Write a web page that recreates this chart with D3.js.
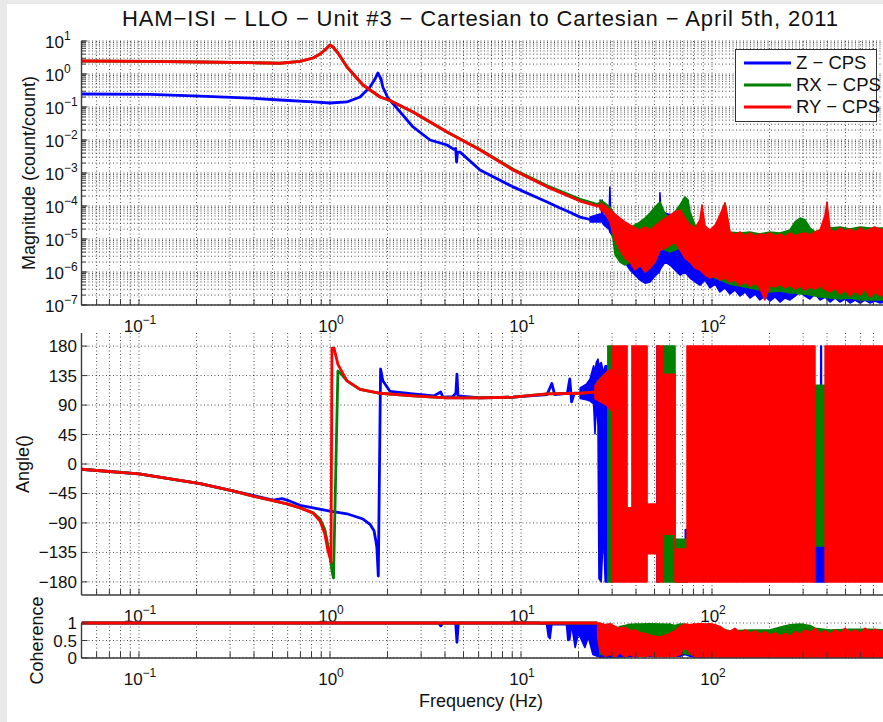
<!DOCTYPE html>
<html><head><meta charset="utf-8">
<script src="https://cdn.jsdelivr.net/npm/d3@7"></script>
<style>
body{margin:0;background:#e9e9e9}
svg{display:block}
text{font-family:"Liberation Sans",Arial,Helvetica,sans-serif;fill:#111}
</style></head><body>
<svg id="c" width="883" height="722"></svg>
<script>
// ---------------- DATA ----------------
const titleText = "HAM\u2212ISI \u2212 LLO \u2212 Unit #3 \u2212 Cartesian to Cartesian \u2212 April 5th, 2011";
const seriesNames = ["Z \u2212 CPS", "RX \u2212 CPS", "RY \u2212 CPS"];
const seriesColors = ["#0000ff", "#008000", "#ff0000"];
const freqDomain = [0.05, 800];
const freqTickExps = [-1, 0, 1, 2];
const magTickExps = [-7, -6, -5, -4, -3, -2, -1, 0, 1];
const angleTicks = [-180, -135, -90, -45, 0, 45, 90, 135, 180];
const cohTicks = [0, 0.5, 1];
const cohTickLabels = ["0", "0.5", "1"];

// Magnitude (count/count): clean lines [f, value]; noisy bands [f, low, high]
const magZLine = [[0.05,0.248],[0.114,0.24],[0.209,0.215],[0.381,0.187],[0.547,0.163],[0.815,0.142],[1.0,0.132],[1.227,0.142],[1.436,0.201],[1.62,0.404],[1.72,0.705],[1.78,1.07],[1.85,0.705],[1.89,0.404],[2.01,0.187],[2.24,0.093],[2.72,0.0248],[3.34,0.0100],[4.10,0.00705],[4.45,0.0052],[4.55,0.0055],[4.6,0.00215],[4.65,0.0043],[4.8,0.0043],[6.10,0.00123],[9.08,3.8e-4],[13.7,1.32e-4],[16,8.7e-5],[18,6.5e-5],[20.4,4.6e-5],[23,3.9e-5]];
const magZBand = [[23.0,3.3e-5,4.6e-5],[25.9,3.3e-5,5.7e-5],[26.4,3.3e-5,5.3e-5],[26.6,3.3e-5,1.52e-4],[26.9,2.85e-5,5.0e-5],[27.5,2.48e-5,5.3e-5],[28.9,2.0e-5,4.6e-5],[29.2,1.63e-5,3.77e-4],[29.5,1.5e-5,4.3e-5],[30.3,1.15e-5,4.3e-5],[31.1,9.3e-6,3.3e-5],[33.0,3.3e-6,2.31e-5],[35.0,2.0e-6,1.63e-5],[37.2,1.15e-6,1.15e-5],[39.5,8.1e-7,9.3e-6],[42.0,5.7e-7,9.3e-6],[44.6,4.6e-7,8.1e-6],[47.4,5.0e-7,9.3e-6],[50.3,7.6e-7,1.32e-5],[53.0,1.0e-6,2.5e-5],[53.4,1.15e-6,2.5e-4],[54.0,1.3e-6,6e-5],[55.4,1.63e-6,5.3e-5],[56.8,2.0e-6,6.1e-5],[60.3,1.63e-6,5.3e-5],[64.0,1.15e-6,3.8e-5],[68.0,8.1e-7,1.32e-5],[72.2,1.0e-6,9.3e-6],[76.7,6.6e-7,7.6e-6],[81.5,5.0e-7,6.1e-6],[86.5,4.0e-7,6.6e-6],[91.9,5.7e-7,5.3e-6],[97.6,3.3e-7,4.6e-6],[104,4.3e-7,4.6e-6],[110,2.48e-7,4.0e-6],[117,3.3e-7,4.6e-6],[124,2.15e-7,3.3e-6],[132,2.85e-7,3.77e-6],[140,1.87e-7,2.85e-6],[149,2.48e-7,3.3e-6],[158,1.63e-7,2.65e-6],[168,2.15e-7,3.05e-6],[178,1.42e-7,2.65e-6],[189,1.87e-7,2.31e-6],[201,1.32e-7,2.65e-6],[214,1.75e-7,2.0e-6],[227,1.23e-7,2.31e-6],[241,1.63e-7,2.0e-6],[256,1.42e-7,2.65e-6],[272,1.87e-7,2.0e-6],[289,2.48e-7,2.31e-6],[307,1.87e-7,2.0e-6],[326,1.52e-7,1.75e-6],[346,2.15e-7,2.0e-6],[368,1.42e-7,1.63e-6],[391,1.75e-7,2.0e-6],[415,1.23e-7,1.52e-6],[441,1.63e-7,1.75e-6],[468,1.23e-7,1.32e-6],[497,1.52e-7,1.63e-6],[528,1.15e-7,1.32e-6],[561,1.42e-7,1.52e-6],[596,1.15e-7,1.32e-6],[632,1.42e-7,1.52e-6],[672,1.15e-7,1.15e-6],[713,1.32e-7,1.32e-6],[758,1.15e-7,1.15e-6],[805,1.23e-7,1.32e-6]];
const magXLine = [[0.05,2.48],[0.114,2.4],[0.209,2.31],[0.381,2.2],[0.547,2.12],[0.697,2.4],[0.815,3.05],[0.887,4.04],[0.94,5.34],[1.0,7.57],[1.037,6.58],[1.10,4.33],[1.227,1.63],[1.488,0.464],[1.83,0.201],[2.06,0.157],[2.72,0.0708],[4.10,0.0174],[6.10,0.0052],[9.08,0.0013],[13.7,4.1e-4],[20.4,1.6e-4],[25,1.12e-4],[25.9,1.2e-4]];
const magXBand = [[25.9,9.3e-5,1.52e-4],[27.5,7.6e-5,1.23e-4],[29.2,5.3e-5,9.3e-5],[31.1,3.3e-6,5.3e-5],[33.0,2.0e-6,3.8e-5],[35.0,1.63e-6,2.85e-5],[37.2,2.0e-6,2.15e-5],[39.5,2.65e-6,2.65e-5],[42.0,3.3e-6,3.3e-5],[44.6,4.6e-6,4.3e-5],[47.4,4.6e-6,6.1e-5],[50.3,5.3e-6,9.3e-5],[53.4,5.3e-6,1.32e-4],[56.8,4.6e-6,5.7e-5],[60.3,4.0e-6,4.3e-5],[64.0,4.6e-6,6.6e-5],[68.0,5.3e-6,1.07e-4],[72.2,4.0e-6,1.87e-4],[74.9,3.3e-6,1.52e-4],[76.7,2.65e-6,6.6e-5],[81.5,2.0e-6,2.65e-5],[86.5,1.32e-6,1.87e-5],[91.9,1.0e-6,1.63e-5],[97.6,8.1e-7,1.52e-5],[104,6.6e-7,1.63e-5],[110,5.7e-7,2.65e-5],[117,5.0e-7,1.23e-4],[124,4.3e-7,1.63e-5],[140,3.77e-7,1.52e-5],[158,3.3e-7,1.63e-5],[178,2.85e-7,1.42e-5],[201,2.48e-7,1.63e-5],[227,2.65e-7,1.52e-5],[256,2.31e-7,1.87e-5],[272,2.31e-7,3.3e-5],[289,2.15e-7,4.3e-5],[307,2.15e-7,3.8e-5],[326,2.0e-7,2.15e-5],[346,1.87e-7,1.63e-5],[368,1.75e-7,1.87e-5],[415,1.63e-7,2.15e-5],[468,1.52e-7,2.31e-5],[528,1.63e-7,2.0e-5],[596,1.42e-7,2.31e-5],[672,1.42e-7,2.15e-5],[805,1.42e-7,2.15e-5]];
const magYLine = [[0.05,2.48],[0.114,2.4],[0.209,2.31],[0.381,2.2],[0.547,2.12],[0.697,2.4],[0.815,3.05],[0.887,4.04],[0.94,5.34],[1.0,7.57],[1.037,6.58],[1.10,4.33],[1.227,1.63],[1.488,0.464],[1.83,0.201],[2.06,0.157],[2.72,0.0708],[4.10,0.0174],[6.10,0.00498],[9.08,0.00123],[13.7,3.8e-4],[20.4,1.41e-4],[25,1.0e-4],[25.9,1.0e-4]];
const magYBand = [[25.9,8.1e-5,1.23e-4],[27.5,6.1e-5,1.0e-4],[29.2,3.3e-5,7.6e-5],[31.1,9.3e-6,5.7e-5],[33.0,4.6e-6,4.3e-5],[35.0,2.65e-6,3.3e-5],[37.2,2.0e-6,2.65e-5],[39.5,1.15e-6,2.15e-5],[42.0,1.63e-6,1.87e-5],[44.6,1.0e-6,2.31e-5],[47.4,1.32e-6,1.87e-5],[50.3,2.0e-6,2.48e-5],[53.4,4.6e-6,3.3e-5],[56.8,5.3e-6,4.3e-5],[60.3,6.6e-6,5.3e-5],[64.0,8.1e-6,6.6e-5],[68.0,4.6e-6,7.6e-5],[72.2,2.65e-6,4.3e-5],[76.7,2.0e-6,2.65e-5],[81.5,1.32e-6,2.15e-5],[86.5,1.15e-6,3.8e-5],[88.6,1.0e-6,1.07e-4],[91.9,8.1e-7,2.48e-5],[97.6,6.6e-7,1.87e-5],[104,7.6e-7,2.65e-5],[110,5.7e-7,5.3e-5],[117,6.6e-7,1.23e-4],[124,5.0e-7,1.63e-5],[132,5.7e-7,1.32e-5],[140,4.0e-7,1.63e-5],[149,5.0e-7,1.23e-5],[158,3.77e-7,1.52e-5],[168,4.6e-7,1.23e-5],[178,3.3e-7,1.42e-5],[189,1.42e-7,1.32e-5],[201,4.0e-7,1.52e-5],[214,3.5e-7,1.23e-5],[227,4.3e-7,1.42e-5],[241,3.3e-7,1.15e-5],[256,4.0e-7,1.52e-5],[272,3.05e-7,1.23e-5],[289,3.77e-7,1.42e-5],[307,2.85e-7,1.52e-5],[326,3.5e-7,1.32e-5],[346,3.05e-7,1.63e-5],[368,3.77e-7,1.87e-5],[391,2.85e-7,5.3e-5],[400,2.85e-7,1.32e-4],[415,2.48e-7,1.87e-5],[441,3.3e-7,1.63e-5],[468,2.15e-7,2.15e-5],[497,2.85e-7,1.75e-5],[528,1.87e-7,2.0e-5],[561,2.65e-7,1.63e-5],[596,2.0e-7,2.15e-5],[632,3.05e-7,1.75e-5],[672,1.75e-7,2.0e-5],[713,2.48e-7,2.31e-5],[758,1.87e-7,1.87e-5],[805,2.31e-7,2.15e-5]];

// Angle (deg); null separates segments of a band
const angZLine = [[0.05,-8],[0.1,-15],[0.209,-30],[0.31,-41],[0.395,-48],[0.503,-55],[0.56,-53],[0.595,-55],[0.697,-63],[0.815,-67],[1.0,-72],[1.227,-76],[1.488,-84],[1.62,-92],[1.70,-102],[1.74,-118],[1.76,-128],[1.79,-171],[1.84,145],[1.89,127],[2.06,111],[2.72,107],[3.5,104],[3.8,110],[3.9,102],[4.4,103],[4.56,108],[4.62,137],[4.68,104],[6.10,101],[9.08,102],[13.7,106],[14.5,123],[15,106],[17.5,108],[18,130],[18.4,95],[19,108],[20.4,108]];
const angZBand = [[20.4,100,116],[22,98,122],[23.0,96,130],[24.0,92,150],[24.4,46,140],[24.8,95,155],[25.3,60,160],[25.6,-175,150],[26.3,-180,155],[27,-100,140],[27.6,-180,150],[28.5,-180,150],[29,90,130],null,
  [51.5,-180,180],[52.5,-180,180],null,[72.5,-180,-100],[74,-180,-100],null,[346,-180,-125],[370,-180,-125],[371,-180,180],[374,-180,180],[375,-180,-125],[391,-180,-125]];
const angXLine = [[0.05,-8],[0.1,-15],[0.209,-30],[0.31,-41],[0.395,-49],[0.503,-56],[0.595,-61],[0.697,-67],[0.815,-74],[0.887,-84],[0.94,-100],[0.976,-125],[1.0,-140],[1.024,-163],[1.043,-174],[1.10,142],[1.15,137],[1.227,127],[1.436,114],[1.83,108],[2.72,104],[4.10,101],[6.10,101],[9.08,102],[13.7,107],[20.4,108],[25,110]];
const angXBand = [[25,100,125],[27,95,135],[28.5,90,140],[28.5,-180,180],[30,-180,180],[30,80,140],[30.5,80,140],null,
  [55.4,-180,180],[64,-180,180],[64,-180,-115],[74,-180,-115],null,[346,-125,120],[391,-125,120]];
const angYLine = [[0.05,-8],[0.1,-15],[0.209,-30],[0.31,-41],[0.395,-49],[0.503,-56],[0.595,-61],[0.697,-67],[0.815,-75],[0.887,-87],[0.94,-107],[0.976,-133],[1.0,-143],[1.012,-150],[1.024,177],[1.05,177],[1.10,152],[1.227,127],[1.436,114],[1.83,108],[2.72,104],[4.10,101],[6.10,101],[9.08,102],[13.7,107],[20.4,108],[25,110]];
const angYBand = [[24.4,100,120],[26,95,130],[28,90,140],[29.9,80,145],[29.9,-180,180],[35.9,-180,180],[35.9,-180,-67],[38.1,-180,-67],[38.1,-180,180],[45.7,-180,180],[45.7,-137,-61],[51.5,-137,-61],[51.5,-180,180],[55.4,-180,180],[55.4,-107,137],[64,-107,137],[64,-180,-130],[74,-180,-130],[74,-180,180],[346,-180,180],null,
  [391,-180,180],[800,-180,180]];

// Coherence
const cohZLine = [[0.05,1],[3.7,1],[3.8,0.92],[3.9,1],[4.55,1],[4.62,0.45],[4.7,1],[12.6,1]];
const cohZBand = [[12.6,0.97,1],[13.6,0.97,1],[13.9,0.6,1],[14.2,0.55,1],[14.5,0.95,1],[17.3,0.95,1],[17.6,0.5,1],[18,0.52,1],[18.4,0.95,1],[19.2,0.3,1],[20,0.7,1],[21.6,0.3,1],[22.5,0.6,1],[23.8,0.1,1],[25.9,0.02,0.98],[29.2,0.02,0.7],[42,0.05,0.6],[60.3,0.05,0.6],[68,0.05,0.7],[72.2,0.1,0.7],[76.7,0.05,0.7],[86.5,0.02,0.7],[800,0.02,0.7]];
const cohXLine = [[0.05,1],[25,1]];
const cohXBand = [[25.9,0.1,0.95],[29.2,0.1,0.9],[31.1,0.1,0.8],[33,0.2,0.9],[35,0.15,0.93],[37.2,0.2,0.96],[42,0.2,0.97],[47.4,0.2,0.98],[53.4,0.2,0.97],[60.3,0.2,0.96],[64,0.2,0.93],[68,0.15,0.97],[76.7,0.1,0.95],[86.5,0.05,0.9],[104,0.05,0.85],[124,0.05,0.78],[158,0.05,0.8],[201,0.05,0.8],[227,0.05,0.88],[256,0.05,0.95],[289,0.05,0.97],[326,0.05,0.93],[346,0.05,0.85],[415,0.05,0.8],[528,0.05,0.82],[672,0.05,0.82],[805,0.05,0.8]];
const cohYLine = [[0.05,1],[25.2,1]];
const cohYBand = [[25.2,0.6,1],[25.9,0.2,1],[27.5,0.05,0.95],[29.2,0.1,0.98],[31.1,0.03,0.9],[33,0.15,0.85],[35,0.03,0.88],[37.2,0.1,0.78],[39.5,0.03,0.8],[42,0.05,0.72],[44.6,0.03,0.7],[47.4,0.08,0.65],[50.3,0.03,0.62],[53.4,0.05,0.6],[56.8,0.03,0.65],[60.3,0.05,0.7],[64,0.04,0.78],[68,0.1,0.9],[72.2,0.3,0.97],[76.7,0.15,0.95],[81.5,0.03,0.97],[86.5,0.02,0.98],[91.9,0.04,0.97],[97.6,0.02,0.98],[104,0.03,0.95],[110,0.02,0.9],[117,0.03,0.8],[124,0.02,0.75],[132,0.02,0.85],[140,0.02,0.72],[149,0.02,0.8],[158,0.02,0.7],[168,0.02,0.78],[178,0.02,0.68],[189,0.02,0.75],[201,0.02,0.65],[214,0.02,0.72],[227,0.02,0.62],[241,0.02,0.7],[256,0.02,0.62],[272,0.02,0.75],[289,0.02,0.68],[307,0.02,0.8],[326,0.02,0.72],[346,0.02,0.85],[368,0.02,0.7],[391,0.02,0.78],[415,0.02,0.68],[441,0.02,0.8],[468,0.02,0.7],[497,0.02,0.85],[528,0.02,0.72],[561,0.02,0.8],[596,0.02,0.7],[632,0.02,0.85],[672,0.02,0.75],[713,0.02,0.82],[758,0.02,0.75],[805,0.02,0.8]];

// ---------------- DRAWING ----------------
const svg = d3.select("#c");
svg.append("rect").attr("x",7).attr("y",4).attr("width",876).attr("height",718).attr("fill","#fff");

const LEFT = 81.5, RIGHT = 884.5;
const x = d3.scaleLog().domain(freqDomain).range([LEFT, RIGHT]);
const xTicksAll = x.ticks();

const panels = {
  mag: {top:41, bottom:305, y: d3.scaleLog().domain([1e-7,10]).range([305,41])},
  ang: {top:333, bottom:595, y: d3.scaleLinear().domain([-200,200]).range([595,333])},
  coh: {top:623, bottom:658, y: d3.scaleLinear().domain([0,1]).range([658,623])}
};

const defs = svg.append("defs");
Object.entries(panels).forEach(([k,p]) => {
  defs.append("clipPath").attr("id","clip-"+k).append("rect")
    .attr("x",LEFT).attr("y",p.top-4).attr("width",RIGHT-LEFT).attr("height",p.bottom-p.top+4);
});

const GRID = {stroke:"#1a1a1a", w:0.9, dash:"1,2.5", op:0.85};
function gridV(g, p){
  g.selectAll(null).data(xTicksAll).enter().append("line")
    .attr("x1",d=>x(d)).attr("x2",d=>x(d)).attr("y1",p.top).attr("y2",p.bottom)
    .attr("stroke",GRID.stroke).attr("stroke-width",GRID.w).attr("stroke-dasharray",GRID.dash).attr("opacity",GRID.op);
}
function gridH(g, p, vals){
  g.selectAll(null).data(vals).enter().append("line")
    .attr("x1",LEFT).attr("x2",RIGHT).attr("y1",d=>p.y(d)).attr("y2",d=>p.y(d))
    .attr("stroke",GRID.stroke).attr("stroke-width",GRID.w).attr("stroke-dasharray",GRID.dash).attr("opacity",GRID.op);
}
function axes(g, p, yMajor, yMinor){
  const ax = "#3a3a3a";
  g.append("line").attr("x1",LEFT).attr("x2",LEFT).attr("y1",p.top).attr("y2",p.bottom).attr("stroke",ax).attr("stroke-width",1.4);
  g.append("line").attr("x1",LEFT).attr("x2",RIGHT).attr("y1",p.bottom).attr("y2",p.bottom).attr("stroke",ax).attr("stroke-width",1.4);
  g.selectAll(null).data(xTicksAll).enter().append("line")
    .attr("x1",d=>x(d)).attr("x2",d=>x(d)).attr("y1",p.bottom).attr("y2",p.bottom-6).attr("stroke",ax).attr("stroke-width",1);
  g.selectAll(null).data(yMajor).enter().append("line")
    .attr("x1",LEFT).attr("x2",LEFT+6).attr("y1",d=>p.y(d)).attr("y2",d=>p.y(d)).attr("stroke",ax).attr("stroke-width",1);
  if (yMinor) g.selectAll(null).data(yMinor).enter().append("line")
    .attr("x1",LEFT).attr("x2",LEFT+4).attr("y1",d=>p.y(d)).attr("y2",d=>p.y(d)).attr("stroke",ax).attr("stroke-width",1);
}
function powText(g, px, py, exp, anchor){
  const t = g.append("text").attr("x",px).attr("y",py).attr("font-size",17).attr("text-anchor",anchor);
  t.append("tspan").text("10");
  t.append("tspan").attr("dy",-8).attr("font-size",12).text(exp < 0 ? "\u2212" + (-exp) : String(exp));
  return t;
}
function xLabels(g, p){
  freqTickExps.forEach(e => powText(g, x(Math.pow(10,e))+1, p.bottom+27, e, "middle"));
}
function drawSeries(g, key, p, lines, bands){
  const cg = g.append("g").attr("clip-path","url(#clip-"+key+")");
  const line = d3.line().x(d=>x(d[0])).y(d=>p.y(d[1]));
  const area = d3.area().defined(d => d !== null).x(d=>x(d[0])).y0(d=>p.y(d[1])).y1(d=>p.y(d[2]));
  [0,1,2].forEach(i => {
    cg.append("path").attr("d",line(lines[i])).attr("fill","none").attr("stroke",seriesColors[i])
      .attr("stroke-width",2.8).attr("stroke-linejoin","round");
    cg.append("path").attr("d",area(bands[i])).attr("fill",seriesColors[i]).attr("stroke",seriesColors[i])
      .attr("stroke-width",1.6).attr("stroke-linejoin","round");
  });
}

// Magnitude panel
const gm = svg.append("g");
const pm = panels.mag;
const magAll = pm.y.ticks();
gridV(gm, pm); gridH(gm, pm, magAll);
drawSeries(gm, "mag", pm, [magZLine, magXLine, magYLine], [magZBand, magXBand, magYBand]);
axes(gm, pm, magTickExps.map(e=>Math.pow(10,e)), magAll);
magTickExps.forEach(e => powText(gm, 45, pm.y(Math.pow(10,e))+7, e, "start"));
xLabels(gm, pm);

// Angle panel
const ga = svg.append("g");
const pa = panels.ang;
gridV(ga, pa); gridH(ga, pa, angleTicks);
drawSeries(ga, "ang", pa, [angZLine, angXLine, angYLine], [angZBand, angXBand, angYBand]);
axes(ga, pa, angleTicks, null);
ga.selectAll(null).data(angleTicks).enter().append("text")
  .attr("x",77).attr("y",d=>pa.y(d)+6).attr("text-anchor","end").attr("font-size",17)
  .text(d => d < 0 ? "\u2212" + (-d) : String(d));
xLabels(ga, pa);

// Coherence panel
const gc = svg.append("g");
const pc = panels.coh;
gridV(gc, pc); gridH(gc, pc, cohTicks);
drawSeries(gc, "coh", pc, [cohZLine, cohXLine, cohYLine], [cohZBand, cohXBand, cohYBand]);
axes(gc, pc, cohTicks, null);
gc.selectAll(null).data(cohTicks).enter().append("text")
  .attr("x",77).attr("y",d=>pc.y(d)+6).attr("text-anchor","end").attr("font-size",17)
  .text((d,i)=>cohTickLabels[i]);
xLabels(gc, pc);

// Axis titles
function yTitle(txt, cx, cy){
  svg.append("text").attr("transform",`translate(${cx},${cy}) rotate(-90)`).attr("text-anchor","middle")
    .attr("font-size",18).text(txt);
}
yTitle("Magnitude (count/count)", 35, (pm.top+pm.bottom)/2);
yTitle("Angle()", 29, (pa.top+pa.bottom)/2);
yTitle("Coherence", 43, (pc.top+pc.bottom)/2);
svg.append("text").attr("x",481).attr("y",707).attr("text-anchor","middle").attr("font-size",18).text("Frequency (Hz)");
svg.append("text").attr("x",480).attr("y",26).attr("text-anchor","middle").attr("font-size",22)
  .attr("textLength",716).attr("lengthAdjust","spacing").text(titleText);

// Legend
const lg = svg.append("g");
lg.append("rect").attr("x",735.5).attr("y",49.5).attr("width",141).attr("height",72).attr("fill","#fff").attr("stroke","#333").attr("stroke-width",1);
seriesNames.forEach((n,i) => {
  const yy = 63 + i*22;
  lg.append("line").attr("x1",744).attr("x2",791).attr("y1",yy).attr("y2",yy).attr("stroke",seriesColors[i]).attr("stroke-width",3);
  lg.append("text").attr("x",796).attr("y",yy+6).attr("font-size",18.5).text(n);
});
</script>
</body></html>
